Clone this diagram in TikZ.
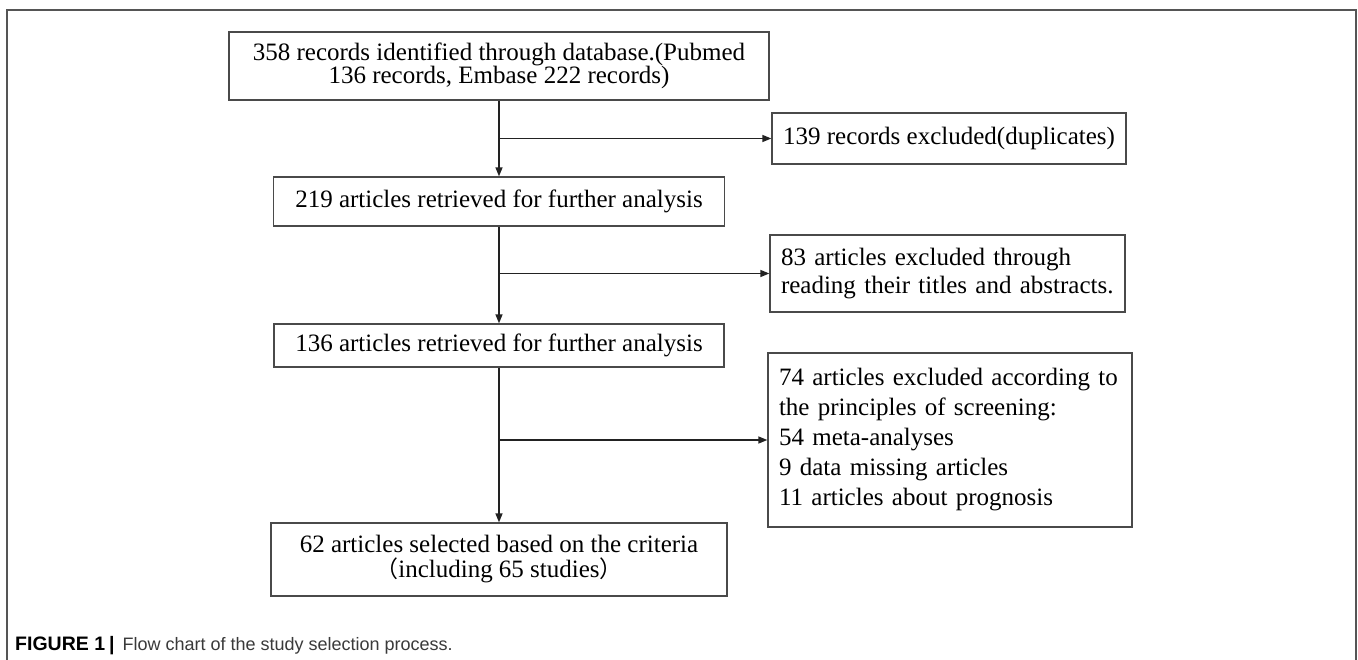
\documentclass[tikz,border=0pt]{standalone}
\usepackage{fontspec}
\setmainfont{Liberation Serif}
\newfontfamily\capfont{Liberation Sans}
\newfontfamily\cjk{Noto Sans CJK SC}
\usetikzlibrary{arrows.meta}
\definecolor{boxline}{HTML}{4A4A4A}
\definecolor{connc}{HTML}{222222}
\definecolor{framec}{HTML}{555555}
\definecolor{captxt}{HTML}{3A3A3A}
\begin{document}
\begin{tikzpicture}[x=1pt,y=-1pt,
  box/.style={draw=boxline, line width=1.3pt, inner sep=0pt, text=black, align=center,
    font=\fontsize{25}{23.5}\selectfont},
  lbox/.style={box, align=left, inner xsep=11pt},
  conn/.style={draw=connc, line width=1.4pt},
  arr/.style={conn, -{Triangle[length=9pt,width=7pt]}}]
\useasboundingbox (0,0) rectangle (1358,660);
\fill[white] (0,0) rectangle (1358,660);
\draw[framec, line width=1.6pt] (7,660) -- (7,10) -- (1356,10) -- (1356,660);

\node[box, minimum width=540pt, minimum height=68pt] (b1) at (499,66)
  {358 records identified through database.(Pubmed\\136 records, Embase 222 records)};
\node[box, minimum width=354pt, minimum height=51pt] (b139) at (949,138.5)
  {139 records excluded(duplicates)};
\node[box, minimum width=451pt, minimum height=49pt] (b219) at (499,201.5)
  {219 articles retrieved for further analysis};
\node[lbox, text width=333pt, minimum height=77pt, font=\fontsize{25}{28}\selectfont] (b83) at (947.5,273.5)
  {83 articles excluded through\\reading their titles and abstracts.};
\node[box, minimum width=450pt, minimum height=43pt] (b136) at (499,345.5)
  {136 articles retrieved for further analysis};
\node[lbox, text width=342pt, minimum height=174pt, font=\fontsize{25}{30}\selectfont] (b74) at (950,440)
  {74 articles excluded according to\\the principles of screening:\\54 meta-analyses\\9 data missing articles\\11 articles about prognosis};
\node[box, minimum width=456pt, minimum height=73pt, font=\fontsize{25}{25}\selectfont] (b62) at (499,559.5)
  {62 articles selected based on the criteria\\{\cjk\fontsize{23}{25}\selectfont （}including 65 studies{\cjk\fontsize{23}{25}\selectfont ）}};

\draw[arr] (b1) -- (b219);
\draw[arr] (b1.south |- b139.west) -- (b139.west);
\draw[arr] (b219) -- (b136);
\draw[arr] (b219.south |- b83.west) -- (b83.west);
\draw[arr] (b136) -- (b62);
\draw[arr] (b136.south |- b74.west) -- (b74.west);

\node[anchor=base west, inner sep=0pt, text=captxt, font=\capfont\fontsize{18}{20}\selectfont] (cap) at (15,650)
  {\textcolor{black}{\fontsize{19.5}{20}\selectfont\bfseries FIGURE 1\hspace{4pt}|}\hspace{3pt} Flow chart of the study selection process.};
\end{tikzpicture}
\end{document}
